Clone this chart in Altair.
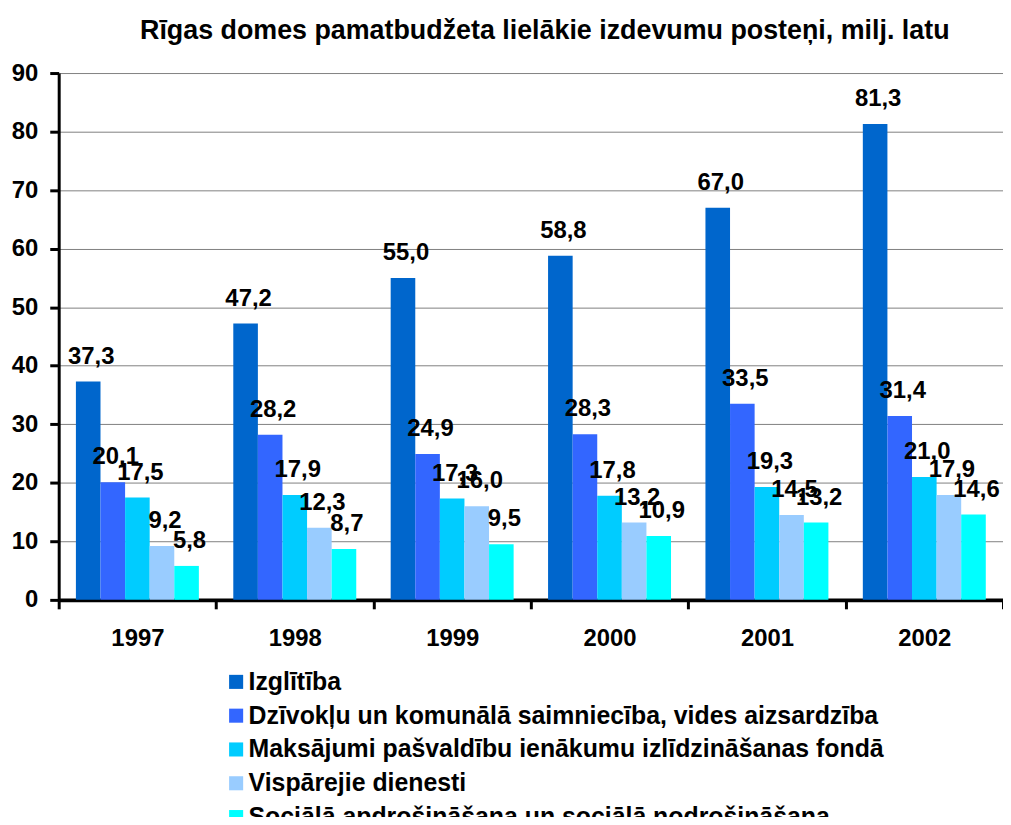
import altair as alt
import pandas as pd

years = ["1997", "1998", "1999", "2000", "2001", "2002"]
series = [
    "Izglītība",
    "Dzīvokļu un komunālā saimniecība, vides aizsardzība",
    "Maksājumi pašvaldību ienākumu izlīdzināšanas fondā",
    "Vispārejie dienesti",
    "Sociālā apdrošināšana un sociālā nodrošināšana",
]
izglitiba = [37.3, 47.2, 55.0, 58.8, 67.0, 81.3]
dzivoklu = [20.1, 28.2, 24.9, 28.3, 33.5, 31.4]
maksajumi = [17.5, 17.9, 17.3, 17.8, 19.3, 21.0]
visparejie = [9.2, 12.3, 16.0, 13.2, 14.5, 17.9]
sociala = [5.8, 8.7, 9.5, 10.9, 13.2, 14.6]
colors = ["#0066CC", "#3366FF", "#00CCFF", "#99CCFF", "#00FFFF"]

rows = []
for s, vals in zip(series, [izglitiba, dzivoklu, maksajumi, visparejie, sociala]):
    for y, v in zip(years, vals):
        rows.append({"year": y, "series": s, "value": v})
df = pd.DataFrame(rows)

FONT = "Liberation Sans"

x = alt.X("year:N", sort=years, title=None,
          scale=alt.Scale(paddingInner=0, paddingOuter=0),
          axis=alt.Axis(labelAngle=0, labelFont=FONT, labelFontSize=24, labelFontWeight="bold",
                        labelColor="black", domainColor="black", domainWidth=4,
                        tickColor="black", tickWidth=3, tickSize=9, tickBand="extent",
                        labelPadding=18, grid=False))
xo = alt.XOffset("series:N", sort=series,
                 scale=alt.Scale(paddingOuter=0.7, paddingInner=0))
y = alt.Y("value:Q", title=None,
          scale=alt.Scale(domain=[0, 90], nice=False),
          axis=alt.Axis(values=list(range(0, 91, 10)), labelFont=FONT, labelFontSize=24,
                        labelFontWeight="bold", labelColor="black", domainColor="black",
                        domainWidth=3, tickColor="black", tickWidth=3, tickSize=9,
                        labelPadding=12, grid=True, gridColor="#808080", gridWidth=1))

bars = alt.Chart(df).mark_bar().encode(
    x=x, xOffset=xo, y=y,
    color=alt.Color("series:N", sort=series,
                    scale=alt.Scale(domain=series, range=colors),
                    legend=alt.Legend(title=None, orient="none", legendX=166, legendY=600,
                                      direction="vertical", symbolType="square",
                                      symbolSize=200, symbolStrokeWidth=0,
                                      labelFont=FONT, labelFontSize=25, labelFontWeight="bold",
                                      labelColor="black", labelLimit=900, rowPadding=8,
                                      labelOffset=0)),
)

labels = alt.Chart(df).transform_calculate(
    label="replace(format(datum.value, '.1f'), '.', ',')"
).mark_text(font=FONT, fontSize=24, fontWeight="bold", color="black",
            baseline="alphabetic", dy=-18, dx=3).encode(
    x=alt.X("year:N", sort=years),
    xOffset=alt.XOffset("series:N", sort=series),
    y=alt.Y("value:Q"),
    text="label:N",
)

chart = alt.layer(bars, labels).properties(
    width=950, height=530,
    title=alt.TitleParams("Rīgas domes pamatbudžeta lielākie izdevumu posteņi, milj. latu",
                          font=FONT, fontSize=27, fontWeight="bold", color="black",
                          anchor="middle", offset=16, dx=14),
    autosize=alt.AutoSizeParams(type="none"),
    padding={"left": 51, "top": 63, "right": 0, "bottom": 216},
).configure_view(stroke=None)

chart.save("out.html", embed_options={"renderer": "svg", "actions": False})
